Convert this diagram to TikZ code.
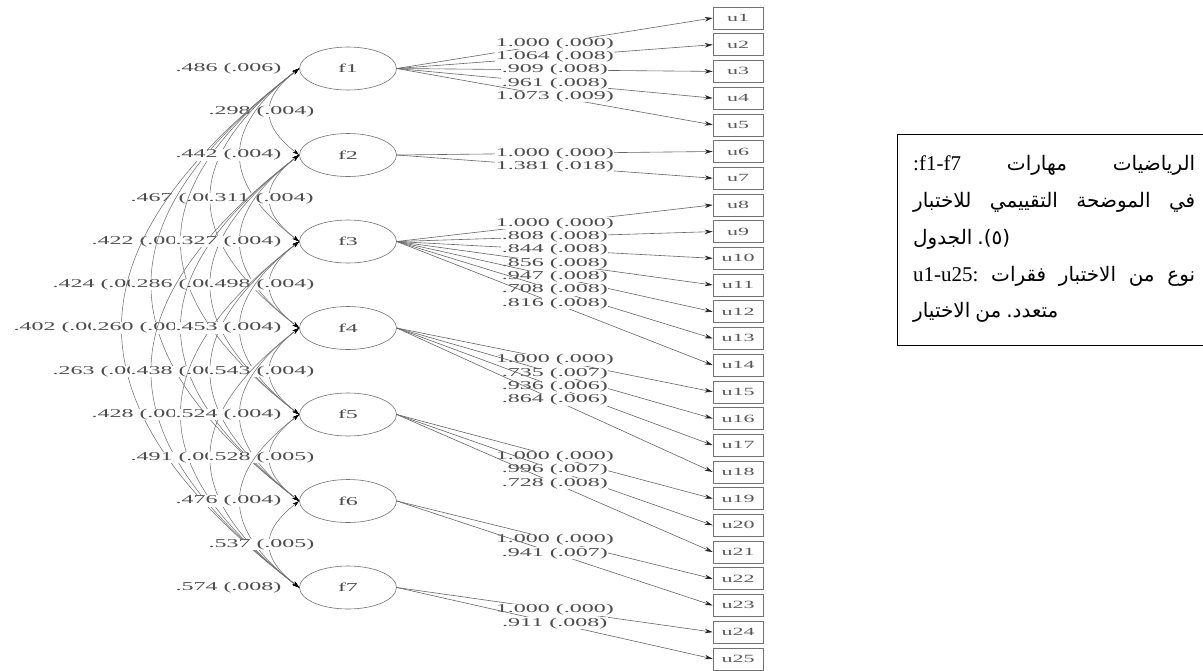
\documentclass[tikz,border=0pt]{standalone}
\usepackage{fontspec}
\setmainfont{Liberation Serif}
\newfontfamily\arabicfont[Script=Arabic]{DejaVu Sans}
\newfontfamily\latinfont{Liberation Serif}
\usepackage{graphicx}
\usetikzlibrary{shapes.geometric,arrows.meta}
\newcommand\wtxt[1]{\scalebox{2}[1]{#1}}
\newcommand\labsize{\fontsize{12}{12}\selectfont}
\newcommand\usize{\fontsize{11}{11}\selectfont}
\newcommand\covarc[2]{\pgfmathsetmacro\covd{#2-#1}\draw[covline] (f#1.west) .. controls +(-39.3*\covd,30.3*\covd) and +(-39.3*\covd,-30.3*\covd) .. (f#2.west);}
\newcommand\clab[3]{\node[clab] at (#1,#2) {\wtxt{#3}};}
\newcommand\aw[1]{\hbox{\fontsize{20}{20}\arabicfont #1}}
\newcommand\lw[1]{\hbox{\fontsize{21}{21}\latinfont #1}}
\begin{document}
\begin{tikzpicture}[x=1pt,y=-1pt,
  fac/.style={ellipse, draw=black!55, line width=0.6pt, minimum width=97pt, minimum height=43pt, inner sep=0pt, text=black!70, font=\labsize},
  ubox/.style={rectangle, draw=black!55, line width=0.6pt, minimum width=50pt, minimum height=22pt, inner sep=0pt, text=black!65, font=\usize},
  load/.style={draw=black!60, line width=0.6pt, -{Stealth[length=8pt,width=4.5pt,color=black!85]}},
  covline/.style={draw=black!55, line width=0.55pt, {Stealth[length=7pt,width=4pt,color=black]}-{Stealth[length=7pt,width=4pt,color=black]}},
  lab/.style={fill=white, inner sep=0.3pt, text=black!70, font=\labsize},
  clab/.style={anchor=west, fill=white, inner sep=0.3pt, text=black!70, font=\labsize},
  arline/.style={anchor=base west, inner sep=0pt}]
\useasboundingbox (0,0) rectangle (1203,670);
\fill[white] (0,0) rectangle (1203,670);
% factors
\foreach \i [evaluate=\i as \yy using 68.5+86.5*(\i-1)] in {1,...,7}
  \node[fac] (f\i) at (348,\yy) {\wtxt{f\i}};
% items
\foreach \k [evaluate=\k as \yy using 18+26.7*(\k-1)] in {1,...,25}
  \node[ubox] (u\k) at (738,\yy) {\wtxt{u\k}};
% loadings
\draw[load] (f1.east) -- node[lab]{\wtxt{1.000 (.000)}} (u1.west);
\draw[load] (f1.east) -- node[lab]{\wtxt{1.064 (.008)}} (u2.west);
\draw[load] (f1.east) -- node[lab]{\wtxt{.909 (.008)}} (u3.west);
\draw[load] (f1.east) -- node[lab]{\wtxt{.961 (.008)}} (u4.west);
\draw[load] (f1.east) -- node[lab]{\wtxt{1.073 (.009)}} (u5.west);
\draw[load] (f2.east) -- node[lab]{\wtxt{1.000 (.000)}} (u6.west);
\draw[load] (f2.east) -- node[lab]{\wtxt{1.381 (.018)}} (u7.west);
\draw[load] (f3.east) -- node[lab]{\wtxt{1.000 (.000)}} (u8.west);
\draw[load] (f3.east) -- node[lab]{\wtxt{.808 (.008)}} (u9.west);
\draw[load] (f3.east) -- node[lab]{\wtxt{.844 (.008)}} (u10.west);
\draw[load] (f3.east) -- node[lab]{\wtxt{.856 (.008)}} (u11.west);
\draw[load] (f3.east) -- node[lab]{\wtxt{.947 (.008)}} (u12.west);
\draw[load] (f3.east) -- node[lab]{\wtxt{.708 (.008)}} (u13.west);
\draw[load] (f3.east) -- node[lab]{\wtxt{.816 (.008)}} (u14.west);
\draw[load] (f4.east) -- node[lab]{\wtxt{1.000 (.000)}} (u15.west);
\draw[load] (f4.east) -- node[lab]{\wtxt{.735 (.007)}} (u16.west);
\draw[load] (f4.east) -- node[lab]{\wtxt{.936 (.006)}} (u17.west);
\draw[load] (f4.east) -- node[lab]{\wtxt{.864 (.006)}} (u18.west);
\draw[load] (f5.east) -- node[lab]{\wtxt{1.000 (.000)}} (u19.west);
\draw[load] (f5.east) -- node[lab]{\wtxt{.996 (.007)}} (u20.west);
\draw[load] (f5.east) -- node[lab]{\wtxt{.728 (.008)}} (u21.west);
\draw[load] (f6.east) -- node[lab]{\wtxt{1.000 (.000)}} (u22.west);
\draw[load] (f6.east) -- node[lab]{\wtxt{.941 (.007)}} (u23.west);
\draw[load] (f7.east) -- node[lab]{\wtxt{1.000 (.000)}} (u24.west);
\draw[load] (f7.east) -- node[lab]{\wtxt{.911 (.008)}} (u25.west);
% covariances and variances
\clab{175}{68.5}{.486 (.006)}
\covarc{1}{2}\clab{208}{111.75}{.298 (.004)}
\covarc{1}{3}
\covarc{1}{4}\clab{130}{198.25}{.467 (.00}
\covarc{1}{5}\clab{91}{241.5}{.422 (.00}
\covarc{1}{6}\clab{52}{284.75}{.424 (.00}
\covarc{1}{7}\clab{13}{328}{.402 (.00}
\clab{175}{155}{.442 (.004)}
\covarc{2}{3}\clab{208}{198.25}{.311 (.004)}
\covarc{2}{4}
\covarc{2}{5}\clab{130}{284.75}{.286 (.00}
\covarc{2}{6}\clab{91}{328}{.260 (.00}
\covarc{2}{7}\clab{52}{371.25}{.263 (.00}
\clab{175}{241.5}{.327 (.004)}
\covarc{3}{4}\clab{208}{284.75}{.498 (.004)}
\covarc{3}{5}
\covarc{3}{6}\clab{130}{371.25}{.438 (.00}
\covarc{3}{7}\clab{91}{414.5}{.428 (.00}
\clab{175}{328}{.453 (.004)}
\covarc{4}{5}\clab{208}{371.25}{.543 (.004)}
\covarc{4}{6}
\covarc{4}{7}\clab{130}{457.75}{.491 (.00}
\clab{175}{414.5}{.524 (.004)}
\covarc{5}{6}\clab{208}{457.75}{.528 (.005)}
\covarc{5}{7}
\clab{175}{501}{.476 (.004)}
\covarc{6}{7}\clab{208}{544.25}{.537 (.005)}
\clab{175}{587.5}{.574 (.008)}
% legend box
\draw[line width=1pt] (897,134) rectangle (1215,345);
\node[arline] (t1) at (913,170) {\hbox to 282pt{\lw{:f1-f7}\hfill\aw{مهارات}\hfill\aw{الرياضيات}}};
\node[arline] (t2) at (913,207) {\hbox to 282pt{\aw{للاختبار}\hfill\aw{التقييمي}\hfill\aw{الموضحة}\hfill\aw{في}}};
\node[arline] (t3) at (913,244) {\hbox{\aw{الجدول}\hspace{5pt}\aw{(٥).}}};
\node[arline] (t4) at (913,281) {\hbox to 282pt{\lw{u1-u25:}\hfill\aw{فقرات}\hfill\aw{الاختبار}\hfill\aw{من}\hfill\aw{نوع}}};
\node[arline] (t5) at (913,317) {\hbox{\aw{الاختيار}\hspace{5pt}\aw{من}\hspace{5pt}\aw{متعدد.}}};
\end{tikzpicture}
\end{document}
